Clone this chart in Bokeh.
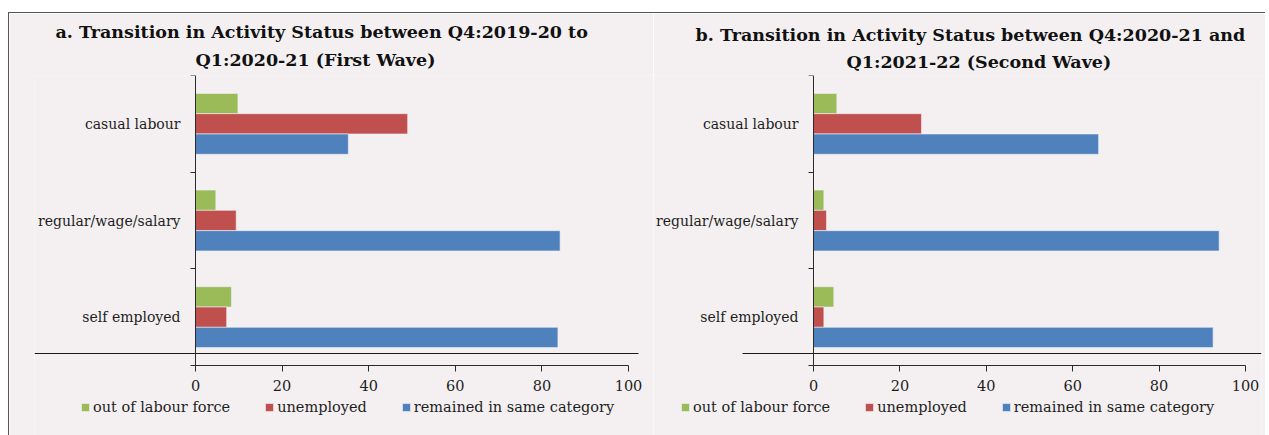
from bokeh.plotting import figure
from bokeh.layouts import row
from bokeh.models import (ColumnDataSource, FixedTicker, Legend, LegendItem,
                          Range1d, Title)
from bokeh.embed import file_html
from bokeh.resources import INLINE

# ---------------- data ----------------
categories = ["casual labour", "regular/wage/salary", "self employed"]
series = ["out of labour force", "unemployed", "remained in same category"]
x_ticks = [0, 20, 40, 60, 80, 100]

wave1_out_of_labour_force = [9.8, 4.7, 8.3]
wave1_unemployed = [49.0, 9.4, 7.2]
wave1_remained_same = [35.3, 84.2, 83.7]

wave2_out_of_labour_force = [5.4, 2.4, 4.7]
wave2_unemployed = [25.0, 3.0, 2.4]
wave2_remained_same = [66.0, 93.9, 92.5]

title_a = ["a. Transition in Activity Status between Q4:2019-20 to",
           "Q1:2020-21 (First Wave)"]
title_b = ["b. Transition in Activity Status between Q4:2020-21 and",
           "Q1:2021-22 (Second Wave)"]

# ---------------- style / layout (page pixels) ----------------
colors = ["#9bbb59", "#c0504d", "#4f81bd"]
BG = "#f4f0f1"
AXIS = "#2b2b2b"
TXT = "#1e1e1e"
FONT = "DejaVu Serif"
offsets = [0.21, 0.0, -0.21]
bar_h = 0.21

OFF_X, OFF_Y = 9, 13                  # page position of the first canvas (margin + border)
PAGE_H = 435
H = PAGE_H - OFF_Y
FRAME_TOP, FRAME_BOTTOM = 75, 435
AX_TOP, AX_BOTTOM = 75, 365
RULE_Y = 353
LEGEND_CENTER_Y = 406


def make_panel(title_lines, title_x, title_stand, values, canvas_x, width,
               frame_left, frame_right, x0_px, x100_px, rule_x, legend_left):
    n = len(categories)
    pos = {c: n - i for i, c in enumerate(categories)}

    sx = (x100_px - x0_px) / 100.0
    x_start = -(x0_px - frame_left) / sx
    x_end = 100 + (frame_right - x100_px) / sx
    sy = (AX_BOTTOM - AX_TOP) / n
    y_end = n + 0.5
    y_start = 0.5 - (FRAME_BOTTOM - AX_BOTTOM) / sy

    p = figure(width=width, height=H, output_backend="svg", toolbar_location=None,
               x_range=Range1d(x_start, x_end), y_range=Range1d(y_start, y_end),
               min_border_left=frame_left - canvas_x,
               min_border_right=canvas_x + width - frame_right,
               min_border_top=FRAME_TOP - OFF_Y, min_border_bottom=PAGE_H - FRAME_BOTTOM,
               title=None)
    p.background_fill_color = BG
    p.border_fill_color = BG
    p.outline_line_color = None
    p.grid.visible = False

    # stray rule of the original page
    ry = 0.5 + (AX_BOTTOM - RULE_Y) / sy
    p.segment(x0=[(rule_x[0] - x0_px) / sx], x1=[(rule_x[1] - x0_px) / sx],
              y0=[ry], y1=[ry], line_color="#1a1a1a", line_width=1.2)

    items = []
    for s_name, vals, col, off in zip(series, values, colors, offsets):
        src = ColumnDataSource(dict(y=[pos[c] + off for c in categories], right=vals,
                                    cat=categories))
        r = p.hbar(y="y", left=0, right="right", height=bar_h, source=src,
                   fill_color=col, line_color="#eef2f8", line_width=0.6)
        items.append(LegendItem(label=s_name, renderers=[r]))

    # x axis
    xa = p.xaxis[0]
    xa.fixed_location = 0.5
    xa.bounds = (0, 100)
    xa.ticker = FixedTicker(ticks=x_ticks, minor_ticks=[])
    xa.axis_line_color = AXIS
    xa.major_tick_line_color = AXIS
    xa.major_tick_out = 6
    xa.major_tick_in = 0
    xa.major_label_standoff = 8
    xa.major_label_text_font = FONT
    xa.major_label_text_font_size = "14.5px"
    xa.major_label_text_color = TXT

    # y axis (categories)
    ya = p.yaxis[0]
    ya.fixed_location = 0
    ya.bounds = (0.5, n + 0.5)
    ya.ticker = FixedTicker(ticks=[pos[c] for c in categories],
                            minor_ticks=[k + 0.5 for k in range(n + 1)])
    ya.major_label_overrides = {pos[c]: c for c in categories}
    ya.major_tick_line_color = None
    ya.major_tick_out = 0
    ya.major_tick_in = 0
    ya.minor_tick_line_color = AXIS
    ya.minor_tick_out = 5
    ya.minor_tick_in = 0
    ya.axis_line_color = AXIS
    ya.major_label_standoff = 10
    ya.major_label_text_font = FONT
    ya.major_label_text_font_size = "14px"
    ya.major_label_text_color = TXT

    # two-line title: second line added first (nearest the frame)
    for line, tx, stand in ((title_lines[1], title_x[1], title_stand[1]),
                            (title_lines[0], title_x[0], title_stand[0])):
        p.add_layout(Title(text=line, align="left", offset=tx - frame_left,
                           text_font=FONT, text_font_style="bold",
                           text_font_size="17.5px", text_color="#111111",
                           standoff=stand), "above")

    leg_h = 17
    leg = Legend(items=items, orientation="horizontal",
                 location=(legend_left - frame_left,
                           FRAME_BOTTOM - LEGEND_CENTER_Y - leg_h / 2),
                 glyph_width=10, glyph_height=10, label_standoff=3, spacing=34,
                 padding=0, margin=0, label_text_font=FONT, label_text_font_size="14.5px",
                 label_text_color=TXT, background_fill_alpha=0,
                 border_line_alpha=0)
    p.add_layout(leg, "center")
    return p


def page(px, canvas_x):
    return px - canvas_x


W1 = 644
p1 = make_panel(title_a, (page(55, OFF_X), page(195, OFF_X)), (1, 11),
                [wave1_out_of_labour_force, wave1_unemployed, wave1_remained_same],
                canvas_x=0, width=W1,
                frame_left=page(34, OFF_X), frame_right=W1,
                x0_px=page(195, OFF_X), x100_px=page(628, OFF_X),
                rule_x=(page(34, OFF_X), page(638, OFF_X)), legend_left=page(80, OFF_X))
X2 = OFF_X + W1
W2 = 612
p2 = make_panel(title_b, (page(695, X2), page(846, X2)), (2, 8),
                [wave2_out_of_labour_force, wave2_unemployed, wave2_remained_same],
                canvas_x=0, width=W2,
                frame_left=0, frame_right=page(1261, X2),
                x0_px=page(813, X2), x100_px=page(1245, X2),
                rule_x=(page(742, X2), page(1261, X2)), legend_left=page(680, X2))

layout = row(p1, p2, margin=(12, 0, 0, 8),
             styles={"border-top": "1px solid #555555",
                     "border-left": "1px solid #555555"})

open("out.html", "w").write(file_html(layout, INLINE))
